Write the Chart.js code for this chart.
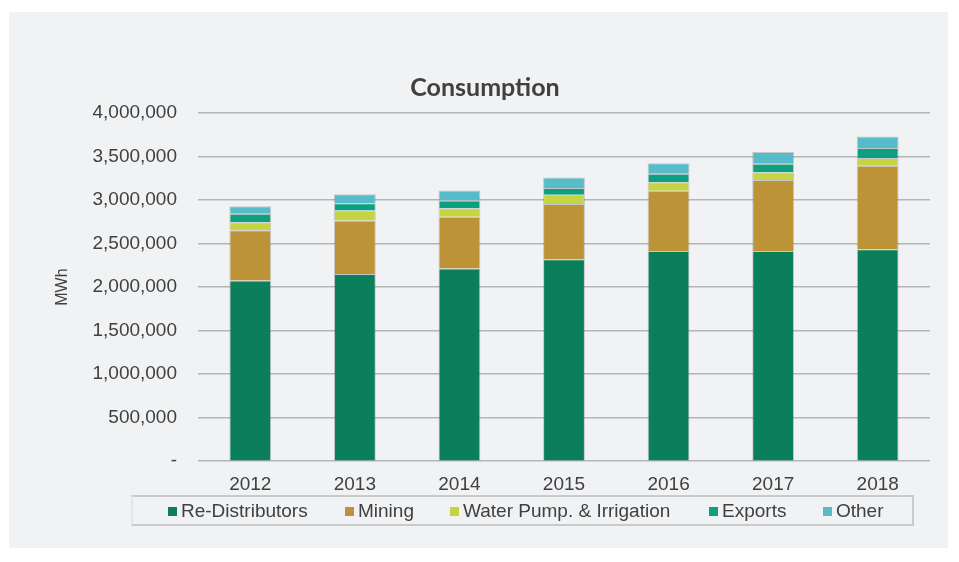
<!DOCTYPE html>
<html>
<head>
<meta charset="utf-8">
<script src="https://cdn.jsdelivr.net/npm/chart.js@4/dist/chart.umd.min.js"></script>
<style>
    html, body { margin: 0; padding: 0; background: #ffffff; }
    #wrap { position: relative; width: 959px; height: 562px; overflow: hidden; }
    #panel { position: absolute; left: 9px; top: 12px; width: 939px; height: 536px; background: #f1f2f4; }
    #chart { position: absolute; left: 0; top: 0; }
    #legend {
        position: absolute; left: 131px; top: 495px; width: 779px; height: 27px;
        border: 2px solid #c9cacc; border-left-color: #e4e5e7;
        font: 19px "Liberation Sans", Arial, sans-serif; color: #404040;
    }
    #legend .item { position: absolute; top: 4px; white-space: nowrap; line-height: 19px; }
    #legend .box { display: inline-block; width: 9px; height: 9px; margin-right: 4px; vertical-align: 1px; }
</style>
</head>
<body>
<div id="wrap">
    <div id="panel"></div>
    <canvas id="chart" width="959" height="562"></canvas>
    <div id="legend"></div>
</div>
<script>
    const years = ['2012', '2013', '2014', '2015', '2016', '2017', '2018'];
    const reDistributors = [2077000, 2150000, 2215000, 2319000, 2414000, 2414000, 2434000];
    const mining = [576000, 614000, 594000, 637000, 694000, 817000, 959000];
    const waterPump = [92000, 115000, 97000, 104000, 97000, 89000, 89000];
    const exportsMWh = [97000, 85000, 88000, 77000, 96000, 96000, 115000];
    const other = [88000, 104000, 115000, 122000, 123000, 135000, 134000];

    const seriesNames = ['Re-Distributors', 'Mining', 'Water Pump. & Irrigation', 'Exports', 'Other'];
    const seriesColors = ['#0b7f5a', '#bd9337', '#c6d443', '#0ca07e', '#56bcca'];
    const seriesValues = [reDistributors, mining, waterPump, exportsMWh, other];

    const FONT = '"Liberation Sans", Arial, sans-serif';
    const TEXT = '#404040';

    const datasets = seriesNames.map((name, i) => ({
        label: name,
        data: seriesValues[i],
        backgroundColor: seriesColors[i],
        borderColor: 'rgba(100,100,100,0.3)',
        borderWidth: 1,
        categoryPercentage: 1,
        barPercentage: 0.4
    }));

    new Chart(document.getElementById('chart'), {
        type: 'bar',
        data: { labels: years, datasets: datasets },
        options: {
            responsive: false,
            animation: false,
            devicePixelRatio: 1,
            layout: { padding: { left: 40, right: 29, top: 0, bottom: 54 } },
            scales: {
                x: {
                    stacked: true,
                    grid: { display: false, drawTicks: false },
                    border: { display: false },
                    ticks: { color: TEXT, font: { family: FONT, size: 19 }, padding: 12 }
                },
                y: {
                    stacked: true,
                    min: 0,
                    max: 4000000,
                    afterFit: scale => { scale.width = 158; },
                    grid: { color: '#b4b5b7', lineWidth: 1.6, drawTicks: false },
                    border: { display: false },
                    ticks: {
                        stepSize: 500000,
                        color: TEXT,
                        padding: 21,
                        font: { family: FONT, size: 19 },
                        callback: v => v === 0 ? '-' : v.toLocaleString('en-US')
                    },
                    title: {
                        display: true,
                        text: 'MWh',
                        color: TEXT,
                        font: { family: FONT, size: 16 },
                        padding: { top: 13, bottom: 0 }
                    }
                }
            },
            plugins: {
                legend: { display: false },
                tooltip: { enabled: false },
                title: {
                    display: true,
                    text: 'Consumption',
                    color: TEXT,
                    font: { family: 'Lato, "Open Sans", sans-serif', size: 25, weight: 'bold' },
                    padding: { top: 73, bottom: 10 }
                }
            }
        }
    });

    // html legend, same spacing as the original
    const legendEl = document.getElementById('legend');
    const legendLefts = [35, 212, 317, 576, 690];
    seriesNames.forEach((name, i) => {
        legendEl.insertAdjacentHTML('beforeend', `
            <div class="item" style="left:${legendLefts[i]}px">
                <span class="box" style="background:${seriesColors[i]}"></span>${name}
            </div>`);
    });
</script>
</body>
</html>
